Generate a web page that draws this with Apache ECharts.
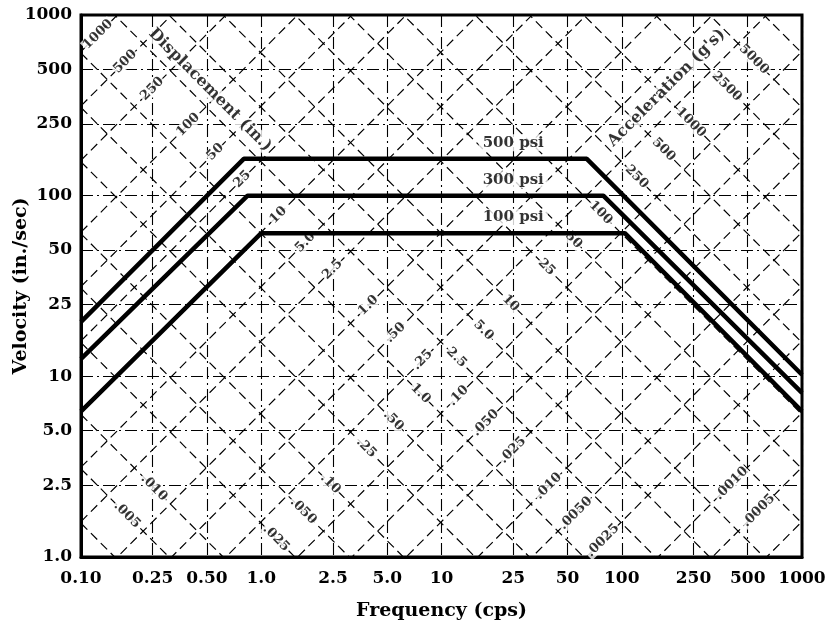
<!DOCTYPE html>
<html><head><meta charset="utf-8">
<script src="https://cdn.jsdelivr.net/npm/echarts@6/dist/echarts.min.js"></script>
<style>html,body{margin:0;padding:0;background:#fff}#c{width:826px;height:626px}</style>
</head><body><div id="c"></div>
<script>
// ---- axis ticks ----
const xTickValues = [0.1, 0.25, 0.5, 1, 2.5, 5, 10, 25, 50, 100, 250, 500, 1000];
const xTickLabels = ['0.10', '0.25', '0.50', '1.0', '2.5', '5.0', '10', '25', '50', '100', '250', '500', '1000'];
const yTickValues = [1, 2.5, 5, 10, 25, 50, 100, 250, 500, 1000];
const yTickLabels = ['1.0', '2.5', '5.0', '10', '25', '50', '100', '250', '500', '1000'];

// ---- shock spectra (frequency cps, velocity in./sec) ----
const psiNames = ['500 psi', '300 psi', '100 psi'];
const psi500 = [[0.1, 20], [0.8, 160], [64, 160], [1000, 10.2]];
const psi300 = [[0.1, 12.5], [0.84, 100], [79, 100], [1000, 8.1]];
const psi100 = [[0.1, 6.4], [1.0, 62], [104, 62], [1000, 6.4]];
const psiLabelFreq = 25;

// ---- tripartite grid: displacement (in.) and acceleration (g's) lines ----
const displacementValues = [1000, 500, 250, 100, 50, 25, 10, 5, 2.5, 1, 0.5, 0.25, 0.1, 0.05, 0.025, 0.01, 0.005, 0.0025, 0.001, 0.0005, 0.00025];
const accelerationValues = [0.0025, 0.005, 0.01, 0.025, 0.05, 0.1, 0.25, 0.5, 1, 2.5, 5, 10, 25, 50, 100, 250, 500, 1000, 2500, 5000, 10000];

// labelled lines (value, text)
const dispLabelMainValues = [1000, 500, 250, 100, 50, 25, 10, 5, 2.5, 1, 0.5, 0.25, 0.1, 0.05, 0.025, 0.01, 0.005, 0.0025];
const dispLabelMainTexts = ['1000', '500', '250', '100', '50', '25', '10', '5.0', '2.5', '1.0', '.50', '.25', '.10', '.050', '.025', '.010', '.0050', '.0025'];
const dispLabelAltValues = [0.001, 0.0005];
const dispLabelAltTexts = ['.0010', '.0005'];
const accLabelMainValues = [5000, 2500, 1000, 500, 250, 100, 50, 25, 10, 5, 2.5, 1, 0.5, 0.25, 0.1, 0.05, 0.025];
const accLabelMainTexts = ['5000', '2500', '1000', '500', '250', '100', '50', '25', '10', '5.0', '2.5', '1.0', '.50', '.25', '.10', '.050', '.025'];
const accLabelAltValues = [0.01, 0.005];
const accLabelAltTexts = ['.010', '.005'];

// ---- layout constants ----
const G = 386.4;          // in/s^2 per g
const TWO_PI = 2 * Math.PI;
const F_MIN = 0.1, F_MAX = 1000;
const dispLabelK = 97, dispLabelAltK = 1040;   // labels sit along f*v = K
const accLabelC = 1.05, accLabelAltC = 9.5;    // labels sit along v/f = C
const titleDisp = [0.52, 385];
const titleAcc = [177, 395];

const FONT = 'DejaVu Serif';

function dispLine(d) { return [[F_MIN, TWO_PI * F_MIN * d], [F_MAX, TWO_PI * F_MAX * d]]; }
function accLine(a) { return [[F_MIN, G * a / (TWO_PI * F_MIN)], [F_MAX, G * a / (TWO_PI * F_MAX)]]; }
function dispLabelPos(d, K) { const f = Math.sqrt(K / (TWO_PI * d)); return [f, K / f]; }
function accLabelPos(a, C) { const f = Math.sqrt(G * a / (TWO_PI * C)); return [f, C * f]; }

const gridLineStyle = { color: '#000', width: 1.2, type: [9, 5] };
const series = [];
displacementValues.forEach(d => series.push({
  type: 'line', data: dispLine(d), symbol: 'none', silent: true, z: 2,
  lineStyle: gridLineStyle
}));
accelerationValues.forEach(a => series.push({
  type: 'line', data: accLine(a), symbol: 'none', silent: true, z: 2,
  lineStyle: gridLineStyle
}));

function labelSeries(points, rotate, size, z) {
  return {
    type: 'scatter', data: points, symbolSize: 1, z: z || 3, silent: true,
    itemStyle: { color: 'rgba(0,0,0,0)' },
    label: {
      show: true, position: 'inside', rotate: rotate,
      formatter: p => p.value[2],
      fontFamily: FONT, fontWeight: 'bold', fontSize: size, color: '#000',
      backgroundColor: '#fff', padding: [0, 1]
    }
  };
}
const dispPts = dispLabelMainValues.map((d, i) => dispLabelPos(d, dispLabelK).concat([dispLabelMainTexts[i]]))
  .concat(dispLabelAltValues.map((d, i) => dispLabelPos(d, dispLabelAltK).concat([dispLabelAltTexts[i]])));
const accPts = accLabelMainValues.map((a, i) => accLabelPos(a, accLabelC).concat([accLabelMainTexts[i]]))
  .concat(accLabelAltValues.map((a, i) => accLabelPos(a, accLabelAltC).concat([accLabelAltTexts[i]])));
series.push(labelSeries(dispPts, 45, 13));
series.push(labelSeries(accPts, -45, 13));
series.push(labelSeries([titleDisp.concat(['Displacement (in.)'])], -45, 16));
series.push(labelSeries([titleAcc.concat(["Acceleration (g's)"])], 45, 16));

[psi500, psi300, psi100].forEach((data, i) => {
  series.push({
    type: 'line', name: psiNames[i], data: data, symbol: 'none', z: 5,
    lineStyle: { color: '#000', width: 4.5 }
  });
});
// psi labels
const psiLevels = [psi500[1][1], psi300[1][1], psi100[1][1]];
series.push({
  type: 'scatter', symbolSize: 1, z: 6, silent: true,
  itemStyle: { color: 'rgba(0,0,0,0)' },
  data: psiLevels.map((v, i) => [psiLabelFreq, v, psiNames[i]]),
  label: {
    show: true, position: 'top', distance: 7,
    formatter: p => p.value[2],
    fontFamily: FONT, fontWeight: 'bold', fontSize: 15, color: '#000',
    backgroundColor: '#fff', padding: [1, 4]
  }
});

function fmt(vals, labels) {
  return v => {
    const i = vals.findIndex(t => Math.abs(Math.log10(t) - Math.log10(v)) < 1e-6);
    return i >= 0 ? labels[i] : '';
  };
}

const chart = echarts.init(document.getElementById('c'), null, { renderer: 'canvas' });
chart.setOption({
  animation: false,
  backgroundColor: '#fff',
  grid: { left: 81, right: 24, top: 15, bottom: 69, containLabel: false, outerBoundsMode: 'none',
    show: true, borderColor: '#000', borderWidth: 3, backgroundColor: 'transparent' },
  xAxis: {
    type: 'log', min: F_MIN, max: F_MAX, logBase: 10,
    name: 'Frequency (cps)', nameLocation: 'middle', nameGap: 45, nameMoveOverlap: false,
    nameTextStyle: { fontFamily: FONT, fontWeight: 'bold', fontSize: 19, color: '#000' },
    axisLine: { show: true, lineStyle: { color: '#000', width: 3 } },
    axisTick: { show: false, customValues: xTickValues },
    axisLabel: { customValues: xTickValues, formatter: fmt(xTickValues, xTickLabels), margin: 13,
      fontFamily: FONT, fontWeight: 'bold', fontSize: 17, color: '#000' },
    splitLine: { show: true, lineStyle: { color: '#000', width: 1.1, type: [12, 4, 2, 4] } }
  },
  yAxis: {
    type: 'log', min: 1, max: 1000, logBase: 10,
    name: 'Velocity (in./sec)', nameLocation: 'middle', nameGap: 50, nameRotate: 90, nameMoveOverlap: false,
    nameTextStyle: { fontFamily: FONT, fontWeight: 'bold', fontSize: 19, color: '#000' },
    axisLine: { show: true, lineStyle: { color: '#000', width: 3 } },
    axisTick: { show: false, customValues: yTickValues },
    axisLabel: { customValues: yTickValues, formatter: fmt(yTickValues, yTickLabels), margin: 9,
      fontFamily: FONT, fontWeight: 'bold', fontSize: 17, color: '#000' },
    splitLine: { show: true, lineStyle: { color: '#000', width: 1.1, type: [12, 4, 2, 4] } }
  },
  series: series
});
</script>
</body></html>
